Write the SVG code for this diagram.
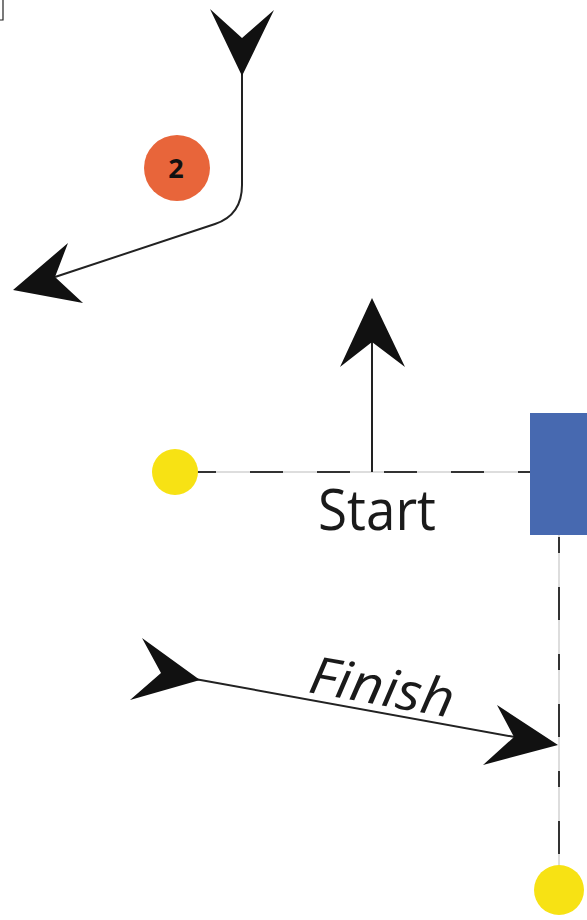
<svg xmlns="http://www.w3.org/2000/svg" width="587" height="920" viewBox="0 0 587 920">
<style>
.head{fill:#111;}
.solid{fill:none;stroke:#222;stroke-width:2;}
.thin{fill:none;stroke:#bbb;stroke-width:1;}
.dash{fill:none;stroke:#333;stroke-width:2;stroke-dasharray:33 34;}
.dot{fill:#f7e214;}
.lbl{font-family:"Open Sans","Liberation Sans",sans-serif;fill:#1a1a1a;}
</style>
<rect width="587" height="920" fill="#fff"/>
<path d="M0,20 H3 V0" fill="none" stroke="#222" stroke-width="1.2"/>
<g id="connectors">
  <path class="solid" d="M242,70 V185 Q242,215 215,224 L55,277"/>
  <polygon class="head" points="210,9 242,38 274,10 242,76"/>
  <polygon class="head" points="13,290 68,243 55,277 83,303"/>
  <line class="thin" x1="198" y1="472" x2="530" y2="472"/>
  <line class="dash" x1="183" y1="472" x2="530" y2="472"/>
  <line class="solid" x1="372" y1="472" x2="372" y2="340"/>
  <polygon class="head" points="372,298 405,367 372,342 340,367"/>
  <line class="thin" x1="559" y1="535" x2="559" y2="866"/>
  <line class="dash" x1="559" y1="537" x2="559" y2="870" style="stroke-dasharray:16 34 33 34"/>
  <line class="solid" x1="195" y1="679" x2="520" y2="738"/>
  <polygon class="head" points="200,680 142,638 161,673 130,700"/>
  <polygon class="head" points="558,745 497,705 514,737 483,765"/>
</g>
<g id="marker2">
  <circle cx="177" cy="168" r="33" fill="#e8653a"/>
  <text x="176" y="178" text-anchor="middle" font-family="'Open Sans','Liberation Sans',sans-serif" font-weight="bold" font-size="27" fill="#111">2</text>
</g>
<g id="start-dot"><circle class="dot" cx="175" cy="472" r="23"/></g>
<g id="gate"><rect x="530" y="413" width="57" height="122" fill="#4769b0"/></g>
<g id="finish-dot"><circle class="dot" cx="559" cy="890" r="25"/></g>
<g id="start-label"><text class="lbl" x="318" y="530" font-size="56" textLength="118" lengthAdjust="spacingAndGlyphs">Start</text></g>
<g id="finish-label"><text class="lbl" transform="translate(307,692) rotate(10.2)" font-size="52" font-style="italic" textLength="146" lengthAdjust="spacingAndGlyphs">Finish</text></g>
</svg>
